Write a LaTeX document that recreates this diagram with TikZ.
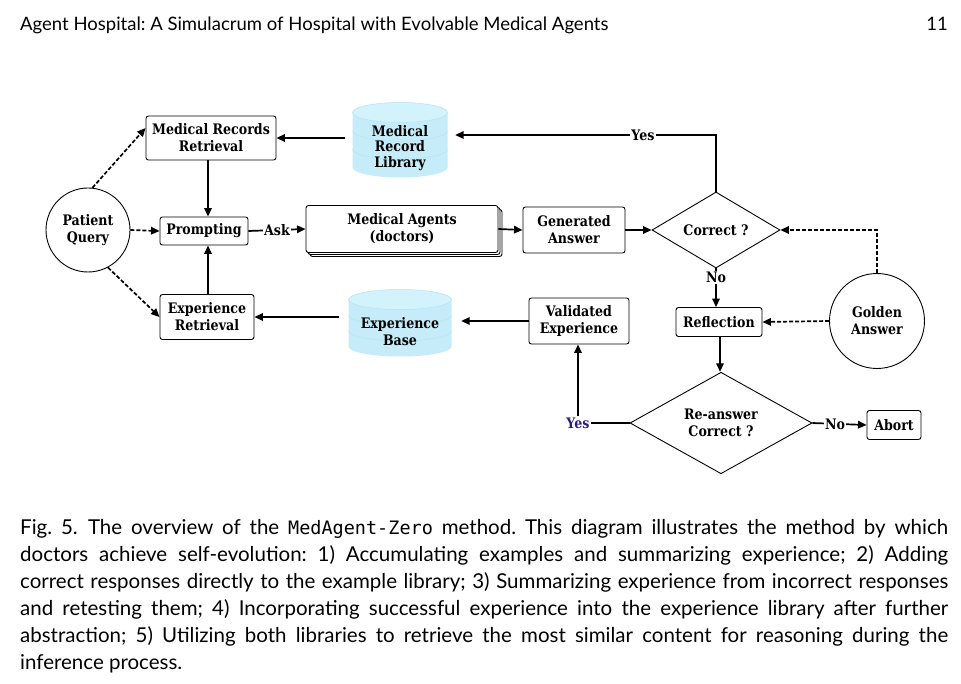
\documentclass[tikz,border=0pt]{standalone}
\usepackage{fontspec}
\setmainfont{Lato}
\newfontfamily\dfont{DejaVu Serif}[FakeStretch=0.87]
\newfontfamily\monofnt{DejaVu Sans Mono}
\usetikzlibrary{shapes.geometric,arrows.meta,shadows,calc}
\definecolor{cylbody}{RGB}{197,236,248}
\definecolor{cyltop}{RGB}{210,242,252}
\definecolor{cyledge}{RGB}{184,228,243}
\definecolor{yesblue}{RGB}{46,30,120}
\newcommand\dbcyl[4]{%
  \begin{scope}[shift={(#1,#2)}]
    \fill[cylbody] ({-#3/2},{-#4/2+10}) -- ({-#3/2},{#4/2-10})
      arc[start angle=180,end angle=0,x radius={#3/2},y radius=10]
      -- ({#3/2},{-#4/2+10}) -- cycle;
    \draw[cyledge,line width=0.5pt] ({-#3/2},{-#4/2+10+(#4-20)/3})
      arc[start angle=180,end angle=0,x radius={#3/2},y radius=10];
    \draw[cyledge,line width=0.5pt] ({-#3/2},{-#4/2+10+2*(#4-20)/3})
      arc[start angle=180,end angle=0,x radius={#3/2},y radius=10];
    \fill[cyltop] (0,{-#4/2+10}) ellipse[x radius={#3/2},y radius=10];
    \draw[cyledge,line width=0.5pt] (0,{-#4/2+10}) ellipse[x radius={#3/2},y radius=10];
  \end{scope}}
\begin{document}
\frenchspacing
\begin{tikzpicture}[x=1pt,y=-1pt,
  dtext/.style={font=\dfont\bfseries\fontsize{14.5}{17}\selectfont, text=black},
  box/.style={dtext, draw, line width=0.9pt, rounded corners=2.5pt, fill=white, align=center, inner sep=1pt},
  rnd/.style={dtext, circle, draw, line width=0.9pt, align=center, inner sep=0pt},
  dia/.style={dtext, diamond, draw, line width=0.9pt, align=center, inner sep=0pt},
  arr/.style={line width=1.7pt, -{Triangle[length=8.5pt,width=7.5pt]}},
  darr/.style={arr, dash pattern=on 4pt off 2pt},
  lab/.style={dtext, fill=white, inner sep=1pt},
]
\useasboundingbox (0,0) rectangle (961,684);
\fill[white] (0,0) rectangle (961,684);

% header
\node[anchor=base west, inner sep=0, font=\fontsize{18.5}{22}\selectfont] (hd) at (20,31) {Agent Hospital: A Simulacrum of Hospital with Evolvable Medical Agents};
\node[anchor=base east, inner sep=0, font=\fontsize{18.5}{22}\selectfont] (pg) at (948,31) {11};

% cylinders
\dbcyl{400}{140}{95}{75}
\dbcyl{400}{323}{103}{67}

% nodes
\node[rnd, minimum size=84pt] (pq) at (88,230) {Patient\\Query};
\node[box, minimum width=130pt, minimum height=44pt] (mrr) at (211,138) {Medical Records\\Retrieval};
\node[box, minimum width=88pt, minimum height=28pt] (pr) at (204,231) {Prompting};
\node[box, minimum width=94pt, minimum height=45pt] (er) at (207,317) {Experience\\Retrieval};
\node[dtext, align=center, minimum width=110pt, inner sep=0pt, font=\dfont\bfseries\fontsize{14.5}{15.5}\selectfont] (mrl) at (400,148) {Medical\\Record\\Library};
\node[dtext, align=center, minimum width=122pt, inner sep=0pt] (eb) at (400,332) {Experience\\Base};
\node[box, minimum width=192pt, minimum height=47pt, double copy shadow={shadow xshift=2pt,shadow yshift=-2pt}] (ma) at (402,229) {Medical Agents\\(doctors)};
\node[box, minimum width=102pt, minimum height=46pt] (ga) at (574,230) {Generated\\Answer};
\node[dia, minimum width=128pt, minimum height=74pt] (cor) at (716,230) {Correct ?};
\node[box, minimum width=86pt, minimum height=29pt] (refl) at (719,322) {Reflection};
\node[rnd, minimum size=95pt] (gold) at (877,321) {Golden\\Answer};
\node[dia, minimum width=182pt, minimum height=73pt] (re) at (721,423) {Re-answer\\Correct ?};
\node[box, minimum width=54pt, minimum height=29pt] (ab) at (894,425) {Abort};
\node[box, minimum width=100pt, minimum height=46pt] (ve) at (579,321) {Validated\\Experience};
\node[dtext, text=yesblue, inner sep=1pt] (yes) at (578,423) {Yes};

% connectors
\draw[darr] (pq.84) -- ([yshift=10pt]mrr.west);
\draw[darr] (pq.east) -- (pr.west);
\draw[darr] (pq.-62) -- (er.west);
\draw[arr] ([xshift=-3pt]mrr.south) -- ([xshift=-3pt]mrr.south |- pr.north);
\draw[arr] ([xshift=1pt]er.north) -- ([xshift=1pt]er.north |- pr.south);
\draw[arr] (pr.east) -- node[lab]{Ask} (ma.west);
\draw[arr] (ma.east) -- (ga.west);
\draw[arr] (ga.east) -- (cor.west);
\draw[arr] (cor.north) |- node[lab, pos=0.64]{Yes} ([yshift=13pt]mrl.east);
\draw[arr] (mrl.west |- mrr.east) -- (mrr.east);
\draw[arr] (cor.south) -- node[lab, pos=0.24]{No} (cor.south |- refl.north);
\draw[darr] (gold.north) |- (cor.east);
\draw[darr] (gold.west) -- (refl.east);
\draw[arr] ([xshift=1pt]refl.south) -- ([xshift=1pt]refl.south |- re.north);
\draw[arr] (re.east) -- node[lab, pos=0.42]{No} (ab.west);
\draw[line width=1.7pt] (re.west) -- (yes.east);
\draw[arr] (yes.north) -- (yes.north |- ve.south);
\draw[arr] (ve.west) -- (eb.east |- ve.west);
\draw[arr] (eb.west |- er.east) -- (er.east);

% caption
\node[anchor=north west, text width=928pt, align=justify, inner sep=0pt, font=\fontsize{20.5}{27}\selectfont] (cap) at (20,519) {Fig. 5.\enspace The overview of the {\monofnt\fontsize{18.5}{27}\selectfont MedAgent-Zero} method. This diagram illustrates the method by which\linebreak doctors achieve self-evolution: 1) Accumulating examples and summarizing experience; 2) Adding\linebreak correct responses directly to the example library; 3) Summarizing experience from incorrect responses\linebreak and retesting them; 4) Incorporating successful experience into the experience library after further\linebreak abstraction; 5) Utilizing both libraries to retrieve the most similar content for reasoning during the\linebreak inference process.};
\end{tikzpicture}
\end{document}
